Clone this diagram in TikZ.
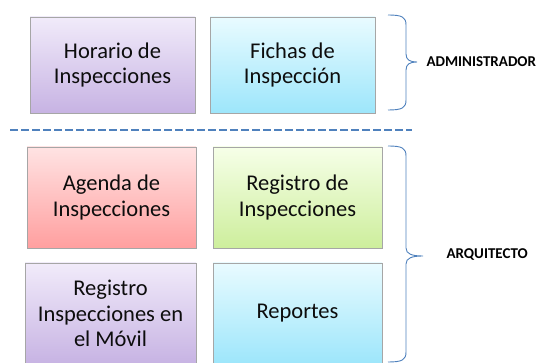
\documentclass[tikz,border=0pt]{standalone}
\usepackage{fontspec}
\setmainfont{Carlito}
\usepackage{tikz}
\usetikzlibrary{shapes,arrows,positioning,shadows}
\usepackage{xcolor}

\definecolor{lilaTop}{HTML}{F1EBFA}
\definecolor{lilaBot}{HTML}{C7B3E3}
\definecolor{cianTop}{HTML}{E9FBFF}
\definecolor{cianBot}{HTML}{9DE6FB}
\definecolor{rojoTop}{HTML}{FFE3E3}
\definecolor{rojoBot}{HTML}{FF9F9F}
\definecolor{verdeTop}{HTML}{F6FFE8}
\definecolor{verdeBot}{HTML}{CDEE9C}
\definecolor{azulLinea}{HTML}{4F81BD}

\tikzset{
    modulo/.style={draw=gray!70, line width=0.6pt, align=center, inner sep=0pt,
        font=\fontsize{22.5}{25.5}\selectfont, text=black!95,
        drop shadow={shadow xshift=1.2pt, shadow yshift=-1.5pt, opacity=0.35}},
    lila/.style={modulo, top color=lilaTop, bottom color=lilaBot},
    cian/.style={modulo, top color=cianTop, bottom color=cianBot},
    rojo/.style={modulo, top color=rojoTop, bottom color=rojoBot},
    verde/.style={modulo, top color=verdeTop, bottom color=verdeBot},
    llave/.style={draw=azulLinea, line width=0.9pt},
    rol/.style={font=\fontsize{15}{18}\selectfont\bfseries, anchor=west}
}

\begin{document}
\begin{tikzpicture}[x=1pt, y=-1pt]
        \clip (0,0) rectangle (539,363);
        \useasboundingbox (0,0) rectangle (539,363);

        % administrador
        \node[lila, minimum width=165pt, minimum height=96pt] (horario) at (112.5,65) {Horario de\\Inspecciones};
        \node[cian, minimum width=165pt, minimum height=96pt] (fichas) at (292.5,65) {Fichas de\\Inspección};

        \draw[azulLinea, line width=2.6pt, dash pattern=on 8pt off 3pt] (10,130) -- (412,130);

        % arquitecto
        \node[rojo, minimum width=169pt, minimum height=101pt] (agenda) at (111.5,197.5) {Agenda de\\Inspecciones};
        \node[verde, minimum width=169pt, minimum height=101pt] (registro) at (297.5,197.5) {Registro de\\Inspecciones};
        \node[lila, minimum width=171pt, minimum height=101pt] (movil) at (110.5,313.5) {Registro\\Inspecciones en\\el Móvil};
        \node[cian, minimum width=169pt, minimum height=101pt] (reportes) at (297.5,313.5) {Reportes};

        % llaves
        \draw[llave] (388,15) .. controls (402,15) and (406,17) .. (406,25) -- (406,54)
            .. controls (406,60) and (410,62) .. (417,62)
            .. controls (410,62) and (406,64) .. (406,70) -- (406,100)
            .. controls (406,108) and (402,110) .. (388,110);
        \draw[llave] (388,146) .. controls (402,146) and (406,148) .. (406,156) -- (406,248)
            .. controls (406,254) and (412,256) .. (423,256)
            .. controls (412,256) and (406,258) .. (406,264) -- (406,352)
            .. controls (406,360) and (402,362) .. (388,362);

        \node[rol] (admin) at (423,62) {ADMINISTRADOR};
        \node[rol] (arq) at (443,255) {ARQUITECTO};
    \end{tikzpicture}
\end{document}
